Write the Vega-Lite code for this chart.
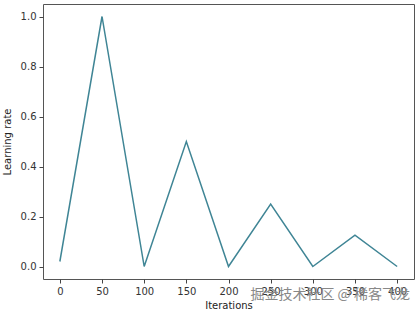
{
  "$schema": "https://vega.github.io/schema/vega-lite/v6.json",
  "width": 371,
  "height": 275,
  "autosize": {"type": "none"},
  "padding": {"left": 43, "top": 4, "right": 5, "bottom": 37},
  "background": "white",
  "title": {
    "text": "掘金技术社区 @ 稀客飞龙",
    "orient": "bottom",
    "anchor": "end",
    "font": "Noto Sans CJK SC",
    "fontSize": 14,
    "fontWeight": "normal",
    "color": "#888",
    "opacity": 0.8,
    "offset": -22,
    "dx": -4
  },
  "config": {
    "font": "DejaVu Sans",
    "view": {"stroke": "#555", "strokeWidth": 1},
    "axis": {
      "grid": false,
      "domain": false,
      "tickColor": "#444",
      "tickSize": 4,
      "labelColor": "#333",
      "labelFontSize": 10,
      "titleFontSize": 10,
      "titleFontWeight": "normal",
      "titleColor": "#222",
      "labelPadding": 3
    }
  },
  "data": {
    "values": [
      {"iter": 0, "lr": 0.02},
      {"iter": 50, "lr": 1.0},
      {"iter": 100, "lr": 0.0},
      {"iter": 150, "lr": 0.5},
      {"iter": 200, "lr": 0.0},
      {"iter": 250, "lr": 0.25},
      {"iter": 300, "lr": 0.0},
      {"iter": 350, "lr": 0.125},
      {"iter": 400, "lr": 0.0}
    ]
  },
  "mark": {"type": "line", "color": "#3f8595", "strokeWidth": 1.5},
  "encoding": {
    "x": {
      "field": "iter",
      "type": "quantitative",
      "title": "Iterations",
      "scale": {"domain": [-20, 420], "nice": false, "zero": false},
      "axis": {"values": [0, 50, 100, 150, 200, 250, 300, 350, 400], "titlePadding": 4}
    },
    "y": {
      "field": "lr",
      "type": "quantitative",
      "title": "Learning rate",
      "scale": {"domain": [-0.05, 1.05], "nice": false, "zero": false},
      "axis": {"values": [0, 0.2, 0.4, 0.6, 0.8, 1.0], "format": ".1f", "titlePadding": 8}
    }
  }
}
